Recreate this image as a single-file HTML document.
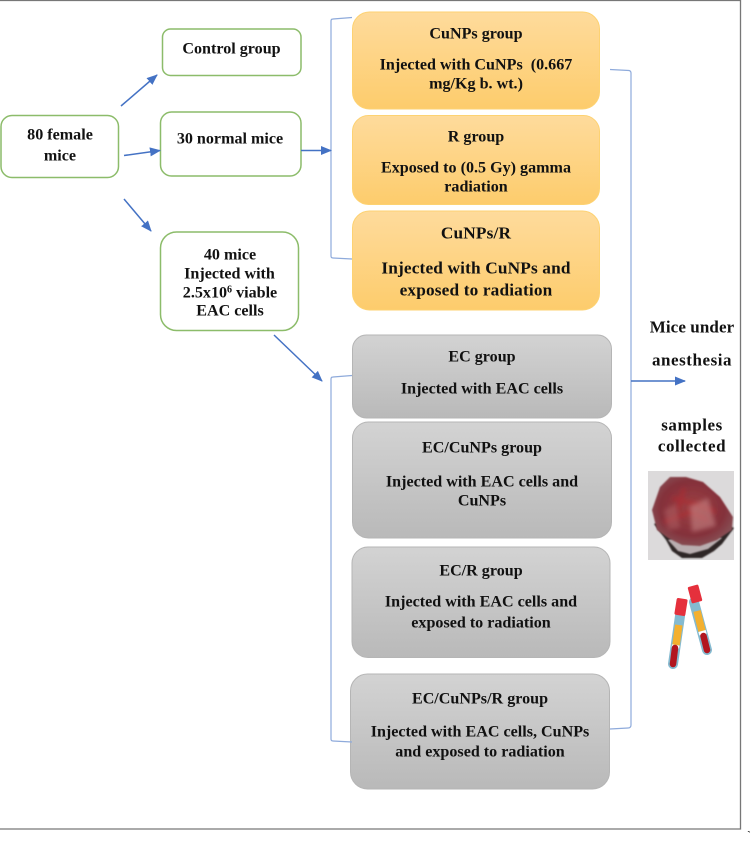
<!DOCTYPE html>
<html><head><meta charset="utf-8"><style>
html,body{margin:0;padding:0;background:#fff}
svg{display:block}
text{font-family:"Liberation Serif",serif;font-weight:bold;font-size:16.100px;fill:#111;text-anchor:middle;transform:translateY(.5px)}
.big{font-size:17.300px;letter-spacing:.15px}
.side{font-size:17px;letter-spacing:.55px}
</style></head><body>
<svg width="751" height="841" viewBox="0 0 751 841" xmlns="http://www.w3.org/2000/svg">
<defs>
<linearGradient id="o" x1="0" y1="0" x2="0" y2="1"><stop offset="0" stop-color="#fedb9c"/><stop offset="1" stop-color="#fdcc6c"/></linearGradient>
<linearGradient id="g" x1="0" y1="0" x2="0" y2="1"><stop offset="0" stop-color="#d3d3d3"/><stop offset="1" stop-color="#b9b9b9"/></linearGradient>
<radialGradient id="t" cx="0.5" cy="0.45" r="0.6"><stop offset="0" stop-color="#9e4245"/><stop offset="0.65" stop-color="#84303a"/><stop offset="1" stop-color="#87555a"/></radialGradient>
<filter id="b" x="-10%" y="-10%" width="120%" height="120%"><feGaussianBlur stdDeviation=".8"/></filter>
<filter id="b2" x="-20%" y="-20%" width="140%" height="140%"><feGaussianBlur stdDeviation="2.500"/></filter>
<marker id="a" markerWidth="11" markerHeight="9" refX="10" refY="4.500" orient="auto" markerUnits="userSpaceOnUse"><path d="M0 0L11 4.500L0 9Z" fill="#4472c4"/></marker>
</defs>
<rect width="751" height="841" fill="#fff"/>
<path d="M0 .5H740.5V829H0" fill="none" stroke="#777" stroke-width="1.3"/>
<text x="749" y="838" style="font-size:11px">`</text>

<g fill="#fff" stroke="#8cbc6a" stroke-width="1.5">
<rect x="1" y="115.500" width="117.500" height="62" rx="11"/>
<rect x="162.500" y="29" width="138.500" height="46.500" rx="8"/>
<rect x="160.500" y="112" width="140.500" height="64" rx="11"/>
<rect x="160.500" y="232" width="138" height="98.500" rx="16"/>
</g>
<g fill="url(#o)" stroke="#fdd272" stroke-width="1">
<rect x="352.500" y="12" width="247" height="97" rx="17"/>
<rect x="352.500" y="115.500" width="247" height="89" rx="16"/>
<rect x="352.500" y="211" width="247" height="99" rx="17"/>
</g>
<g fill="url(#g)" stroke="#b5b5b5" stroke-width="1">
<rect x="352.500" y="335" width="259" height="83" rx="14"/>
<rect x="352.500" y="422" width="259" height="116" rx="16"/>
<rect x="352" y="547" width="258" height="110.500" rx="16"/>
<rect x="350.500" y="674" width="259" height="115" rx="17"/>
</g>

<g fill="none" stroke="#8eaadb" stroke-width="1.2">
<path d="M352 17.500L333 19Q331 19 331 21V256Q331 258 333 258L352 259"/>
<path d="M352 375.500L333 377Q331 377 331 379V739Q331 741 333 741L352 742"/>
<path d="M610 69.500L629 70.500Q631 71 631 73V725Q631 728 628 728L610 729"/>
</g>
<g stroke="#4472c4" stroke-width="1.5" fill="none">
<path d="M121 106L157 75" marker-end="url(#a)"/>
<path d="M124 155.500L160 150.500" marker-end="url(#a)"/>
<path d="M124 199L151 231" marker-end="url(#a)"/>
<path d="M301 150.500H331" marker-end="url(#a)"/>
<path d="M274 335L322 381" marker-end="url(#a)"/>
<path d="M631 381H685" marker-end="url(#a)"/>
</g>

<text x="60" y="139">80 female</text>
<text x="60" y="160">mice</text>
<text x="231.500" y="53">Control group</text>
<text x="230" y="143">30 normal mice</text>
<text x="230" y="259">40 mice</text>
<text x="229.500" y="278">Injected with</text>
<text x="230" y="297">2.5x10<tspan dy="-5" style="font-size:10px">6</tspan><tspan dy="5"> viable</tspan></text>
<text x="230" y="315">EAC cells</text>

<text x="476" y="38">CuNPs group</text>
<text x="476" y="69">Injected with CuNPs&#160; (0.667</text>
<text x="476" y="88">mg/Kg b. wt.)</text>
<text x="476" y="141">R group</text>
<text x="476" y="172">Exposed to (0.5 Gy) gamma</text>
<text x="476" y="191">radiation</text>
<text class="big" x="476" y="238">CuNPs/R</text>
<text class="big" x="476" y="273">Injected with CuNPs and</text>
<text class="big" x="476" y="295">exposed to radiation</text>

<text x="482" y="361">EC group</text>
<text x="482" y="393">Injected with EAC cells</text>
<text x="482" y="452">EC/CuNPs group</text>
<text x="482" y="486">Injected with EAC cells and</text>
<text x="482" y="505">CuNPs</text>
<text x="481" y="575">EC/R group</text>
<text x="481" y="606">Injected with EAC cells and</text>
<text x="481" y="627">exposed to radiation</text>
<text x="480" y="703">EC/CuNPs/R group</text>
<text x="480" y="736">Injected with EAC cells, CuNPs</text>
<text x="480" y="756">and exposed to radiation</text>

<text class="side" x="692" y="332" style="letter-spacing:.1px">Mice under</text>
<text class="side" x="692" y="365">anesthesia</text>
<text class="side" x="692" y="430">samples</text>
<text class="side" x="692" y="451">collected</text>

<rect x="648" y="471" width="86" height="89" fill="#dcdadb"/>
<path d="M654 524L666 540L672 551L682 558L702 558L714 551L722 544L734 528L690 510Z" fill="#2e2626" filter="url(#b)"/>
<path d="M668 540L678 551L690 554L708 549L722 538L700 530Z" fill="#b9aeb0" filter="url(#b)"/>
<path d="M670 477L686 477L703 482L720 497L733 517L732 530L717 540L700 546L682 545L668 538L657 530L652 510L660 487Z" fill="url(#t)" filter="url(#b)"/>
<path d="M664 522L690 512L708 520M672 498L698 505L716 512M684 488L678 510" stroke="#b8262d" stroke-width="4" fill="none" opacity=".55" filter="url(#b2)"/>
<path d="M690 506L708 498L716 526L692 532Z" fill="#c98a8a" opacity=".55" filter="url(#b2)"/>
<path d="M664 510L676 504L680 528L668 530Z" fill="#b86a6c" opacity=".45" filter="url(#b2)"/>

<g stroke-linecap="round" fill="none">
<path d="M680 616L673 664" stroke="#84bad0" stroke-width="10"/>
<path d="M678.800 625L676 645" stroke="#f3b02f" stroke-width="7.500" stroke-linecap="butt"/>
<path d="M675.800 645L675.300 648" stroke="#fff" stroke-width="7.500" stroke-linecap="butt"/>
<path d="M675 648L673 664" stroke="#b2161f" stroke-width="6.500"/>
<path d="M694 602L707 650" stroke="#84bad0" stroke-width="10"/>
<path d="M697 611L702 631" stroke="#f3b02f" stroke-width="7.500" stroke-linecap="butt"/>
<path d="M702 631L703 634.500" stroke="#fff" stroke-width="7.500" stroke-linecap="butt"/>
<path d="M703.500 636L707 650" stroke="#b2161f" stroke-width="6.500"/>
</g>
<rect x="675.500" y="598.500" width="11" height="17" rx="1.500" fill="#e5303c" transform="rotate(9 681 607)"/>
<rect x="689.500" y="585.500" width="11" height="17" rx="1.500" fill="#e5303c" transform="rotate(-15 695 594)"/>
</svg>
</body></html>
